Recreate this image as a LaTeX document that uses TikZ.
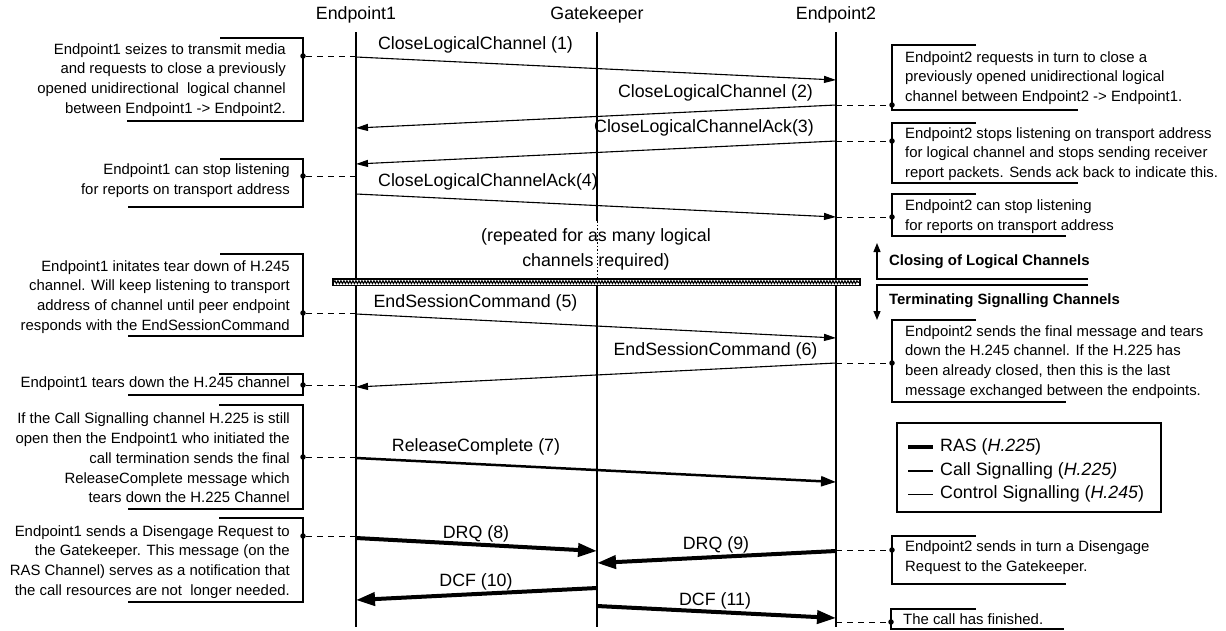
\documentclass[tikz,border=0pt]{standalone}
\usepackage{fontspec}
\setmainfont{Liberation Sans}
\usetikzlibrary{arrows.meta,decorations.pathmorphing}
\tikzset{
 lbl/.style={font=\fontsize{17.8}{24.5}\selectfont, inner sep=0pt},
 note/.style={font=\fontsize{14.9}{19.8}\selectfont, inner sep=0pt},
 bnote/.style={font=\fontsize{14.9}{19.8}\selectfont\bfseries, inner sep=0pt, anchor=west},
 lnote/.style={note, anchor=east, align=right},
 rnote/.style={note, anchor=west, align=left},
 life/.style={line width=1.1pt},
 msg/.style={line width=1.1pt, -{Triangle[length=12pt,width=7pt]}},
 callmsg/.style={line width=2.5pt, -{Triangle[length=15pt,width=10pt]}},
 rasmsg/.style={line width=4pt, -{Triangle[length=19pt,width=13pt]}},
 conn/.style={line width=1pt, dash pattern=on 6pt off 5pt},
 bracket/.style={line width=1.2pt},
 pin/.style={circle, fill=black, inner sep=0pt, minimum size=5.5pt},
 secarrow/.style={line width=1.2pt, -{Triangle[length=9pt,width=7pt]}}
}
\begin{document}
\begin{tikzpicture}[x=1pt,y=-1pt]
\useasboundingbox (0,0) rectangle (1226,630);

% headers
\node[lbl] (h1) at (356,15) {Endpoint1};
\node[lbl] (hg) at (597,15) {Gatekeeper};
\node[lbl] (h2) at (836,15) {Endpoint2};

% lifelines
\coordinate (e1t) at (356,32); \coordinate (e1b) at (356,627);
\coordinate (e2t) at (836,32); \coordinate (e2b) at (836,627);
\coordinate (gt) at (597,32); \coordinate (gd1) at (597,221);
\coordinate (gd2) at (597,280); \coordinate (gb) at (597,627);
\draw[life] (e1t) -- (e1b);
\draw[life] (e2t) -- (e2b);
\draw[life] (gt) -- (gd1);
\draw[line width=1pt, dash pattern=on 1.5pt off 2pt] (gd1) -- (gd2);
\draw[life] (gd2) -- (gb);

% messages
\coordinate (m1a) at (356,57);  \coordinate (m1b) at (836,80);
\coordinate (m2a) at (836,105); \coordinate (m2b) at (356,128);
\coordinate (m3a) at (836,141); \coordinate (m3b) at (356,164);
\coordinate (m4a) at (356,194); \coordinate (m4b) at (836,217);
\coordinate (m5a) at (356,314); \coordinate (m5b) at (836,338);
\coordinate (m6a) at (836,363); \coordinate (m6b) at (356,387);
\coordinate (m7a) at (356,458); \coordinate (m7b) at (836,482);
\coordinate (m8a) at (356,538); \coordinate (m8b) at (597,551);
\coordinate (m9a) at (836,551); \coordinate (m9b) at (597,563);
\coordinate (m10a) at (597,588); \coordinate (m10b) at (356,600);
\coordinate (m11a) at (597,606); \coordinate (m11b) at (836,618);
\draw[msg] (m1a) -- (m1b);
\draw[msg] (m2a) -- (m2b);
\draw[msg] (m3a) -- (m3b);
\draw[msg] (m4a) -- (m4b);
\draw[msg] (m5a) -- (m5b);
\draw[msg] (m6a) -- (m6b);
\draw[callmsg] (m7a) -- (m7b);
\draw[rasmsg] (m8a) -- (m8b);
\draw[rasmsg] (m9a) -- (m9b);
\draw[rasmsg] (m10a) -- (m10b);
\draw[rasmsg] (m11a) -- (m11b);

\node[lbl] (l1) at (475.5,45) {CloseLogicalChannel (1)};
\node[lbl] (l2) at (715.5,93) {CloseLogicalChannel (2)};
\node[lbl] (l3) at (704,128) {CloseLogicalChannelAck(3)};
\node[lbl] (l4) at (488,182) {CloseLogicalChannelAck(4)};
\node[lbl] (l5) at (475.5,303) {EndSessionCommand (5)};
\node[lbl] (l6) at (715.5,351) {EndSessionCommand (6)};
\node[lbl] (l7) at (476,447) {ReleaseComplete (7)};
\node[lbl] (l8) at (476,534) {DRQ (8)};
\node[lbl] (l9) at (716,545) {DRQ (9)};
\node[lbl] (l10) at (476,582) {DCF (10)};
\node[lbl] (l11) at (715,601) {DCF (11)};

% repeated text
\node[lbl, align=center] (rep) at (596,249.5) {(repeated for as many logical\\channels required)};

% separator
\draw[line width=1.2pt, fill=white] (333,279) rectangle (860,285.5);
\draw[decorate, decoration={snake, segment length=3pt, amplitude=1.4pt}, line width=1.1pt] (334,282.2) -- (859,282.2);

% section labels
\coordinate (s1e) at (1088,279); \coordinate (s1c) at (877,279); \coordinate (s1t) at (877,243);
\coordinate (s2e) at (1088,285); \coordinate (s2c) at (877,285); \coordinate (s2t) at (877,320);
\draw[secarrow] (s1e) -- (s1c) -- (s1t);
\draw[secarrow] (s2e) -- (s2c) -- (s2t);
\node[bnote] (sec1) at (889,262) {Closing of Logical Channels};
\node[bnote] (sec2) at (889,301) {Terminating Signalling Channels};

% left notes
\draw[bracket] (220,38) -- (303,38) -- (303,121) -- (127,121);
\node[pin] (d1) at (303,56) {};
\coordinate (c1) at (356,56);
\draw[conn] (d1) -- (c1);
\node[lnote] (n1) at (286,80) {Endpoint1 seizes to transmit media\\and requests to close a previously\\opened unidirectional~ logical channel\\between Endpoint1 -> Endpoint2.};

\draw[bracket] (220,159) -- (303,159) -- (303,207) -- (128,207);
\node[pin] (d2) at (303,176) {};
\coordinate (c2) at (356,176);
\draw[conn] (d2) -- (c2);
\node[lnote] (n2) at (290,181) {Endpoint1 can stop listening\\for reports on transport address};

\draw[bracket] (220,254) -- (303,254) -- (303,336) -- (128,336);
\node[pin] (d3) at (303,313) {};
\coordinate (c3) at (356,313);
\draw[conn] (d3) -- (c3);
\node[lnote] (n3) at (290,297) {Endpoint1 initates tear down of H.245\\channel. Will keep listening to transport\\address of channel until peer endpoint\hspace*{4pt}\\responds with the EndSessionCommand};

\draw[bracket] (219,374) -- (303,374) -- (303,395) -- (128,395);
\node[pin] (d4) at (303,385) {};
\coordinate (c4) at (356,385);
\draw[conn] (d4) -- (c4);
\node[lnote] (n4) at (290,384) {Endpoint1 tears down the H.245 channel};

\draw[bracket] (219,405) -- (303,405) -- (303,509) -- (128,509);
\node[pin] (d5) at (303,457) {};
\coordinate (c5) at (356,457);
\draw[conn] (d5) -- (c5);
\node[lnote] (n5) at (290,458) {If the Call Signalling channel H.225 is still\\open then the Endpoint1 who initiated the\\call termination sends the final\\ReleaseComplete message which\\tears down the H.225 Channel};

\draw[bracket] (219,518) -- (303,518) -- (303,602) -- (128,602);
\node[pin] (d6) at (303,536) {};
\coordinate (c6) at (356,536);
\draw[conn] (d6) -- (c6);
\node[lnote] (n6) at (290,562) {Endpoint1 sends a Disengage Request to\\the Gatekeeper. This message (on the\\RAS Channel) serves as a notification that\\the call resources are not~ longer needed.};

% right notes
\draw[bracket] (976,45) -- (892,45) -- (892,110) -- (1078,110);
\node[pin] (r1) at (892,105) {};
\coordinate (k1) at (836,105);
\draw[conn] (k1) -- (r1);
\node[rnote] (q1) at (905,78) {Endpoint2 requests in turn to close a\\previously opened unidirectional logical\\channel between Endpoint2 -> Endpoint1.};

\draw[bracket] (976,123) -- (892,123) -- (892,183) -- (1078,183);
\node[pin] (r2) at (892,141) {};
\coordinate (k2) at (836,141);
\draw[conn] (k2) -- (r2);
\node[rnote] (q2) at (905,154) {Endpoint2 stops listening on transport address\\for logical channel and stops sending receiver\\report packets. Sends ack back to indicate this.};

\draw[bracket] (976,194) -- (892,194) -- (892,236) -- (1066,236);
\node[pin] (r3) at (892,217) {};
\coordinate (k3) at (836,217);
\draw[conn] (k3) -- (r3);
\node[rnote] (q3) at (905,217) {Endpoint2 can stop listening\\for reports on transport address};

\draw[bracket] (976,320) -- (892,320) -- (892,402) -- (1066,402);
\node[pin] (r4) at (892,363) {};
\coordinate (k4) at (836,363);
\draw[conn] (k4) -- (r4);
\node[rnote] (q4) at (905,362) {Endpoint2 sends the final message and tears\\down the H.245 channel. If the H.225 has\\been already closed, then this is the last\\message exchanged between the endpoints.};

\draw[bracket] (976,536) -- (892,536) -- (892,584) -- (1066,584);
\node[pin] (r5) at (892,550) {};
\coordinate (k5) at (836,550);
\draw[conn] (k5) -- (r5);
\node[rnote] (q5) at (905,558) {Endpoint2 sends in turn a Disengage\\Request to the Gatekeeper.};

\draw[bracket] (976,609) -- (891,609) -- (891,629) -- (1064,629);
\node[pin] (r6) at (891,622) {};
\coordinate (k6) at (836,622);
\draw[conn] (k6) -- (r6);
\node[rnote] (q6) at (903,619) {The call has finished.};

% legend
\node[draw, line width=1.2pt, minimum width=264pt, minimum height=89pt, inner sep=0pt] (leg) at (1029,467.5) {};
\coordinate (g1a) at (908,447); \coordinate (g1b) at (933,447);
\coordinate (g2a) at (908,471); \coordinate (g2b) at (933,471);
\coordinate (g3a) at (908,494); \coordinate (g3b) at (933,494);
\draw[line width=4pt] (g1a) -- (g1b);
\draw[line width=2.8pt] (g2a) -- (g2b);
\draw[line width=1pt] (g3a) -- (g3b);
\node[lbl, anchor=west] (t1) at (940,447) {RAS (\textit{H.225})};
\node[lbl, anchor=west] (t2) at (940,471) {Call Signalling (\textit{H.225)}};
\node[lbl, anchor=west] (t3) at (940,494) {Control Signalling (\textit{H.245})};
\end{tikzpicture}
\end{document}
